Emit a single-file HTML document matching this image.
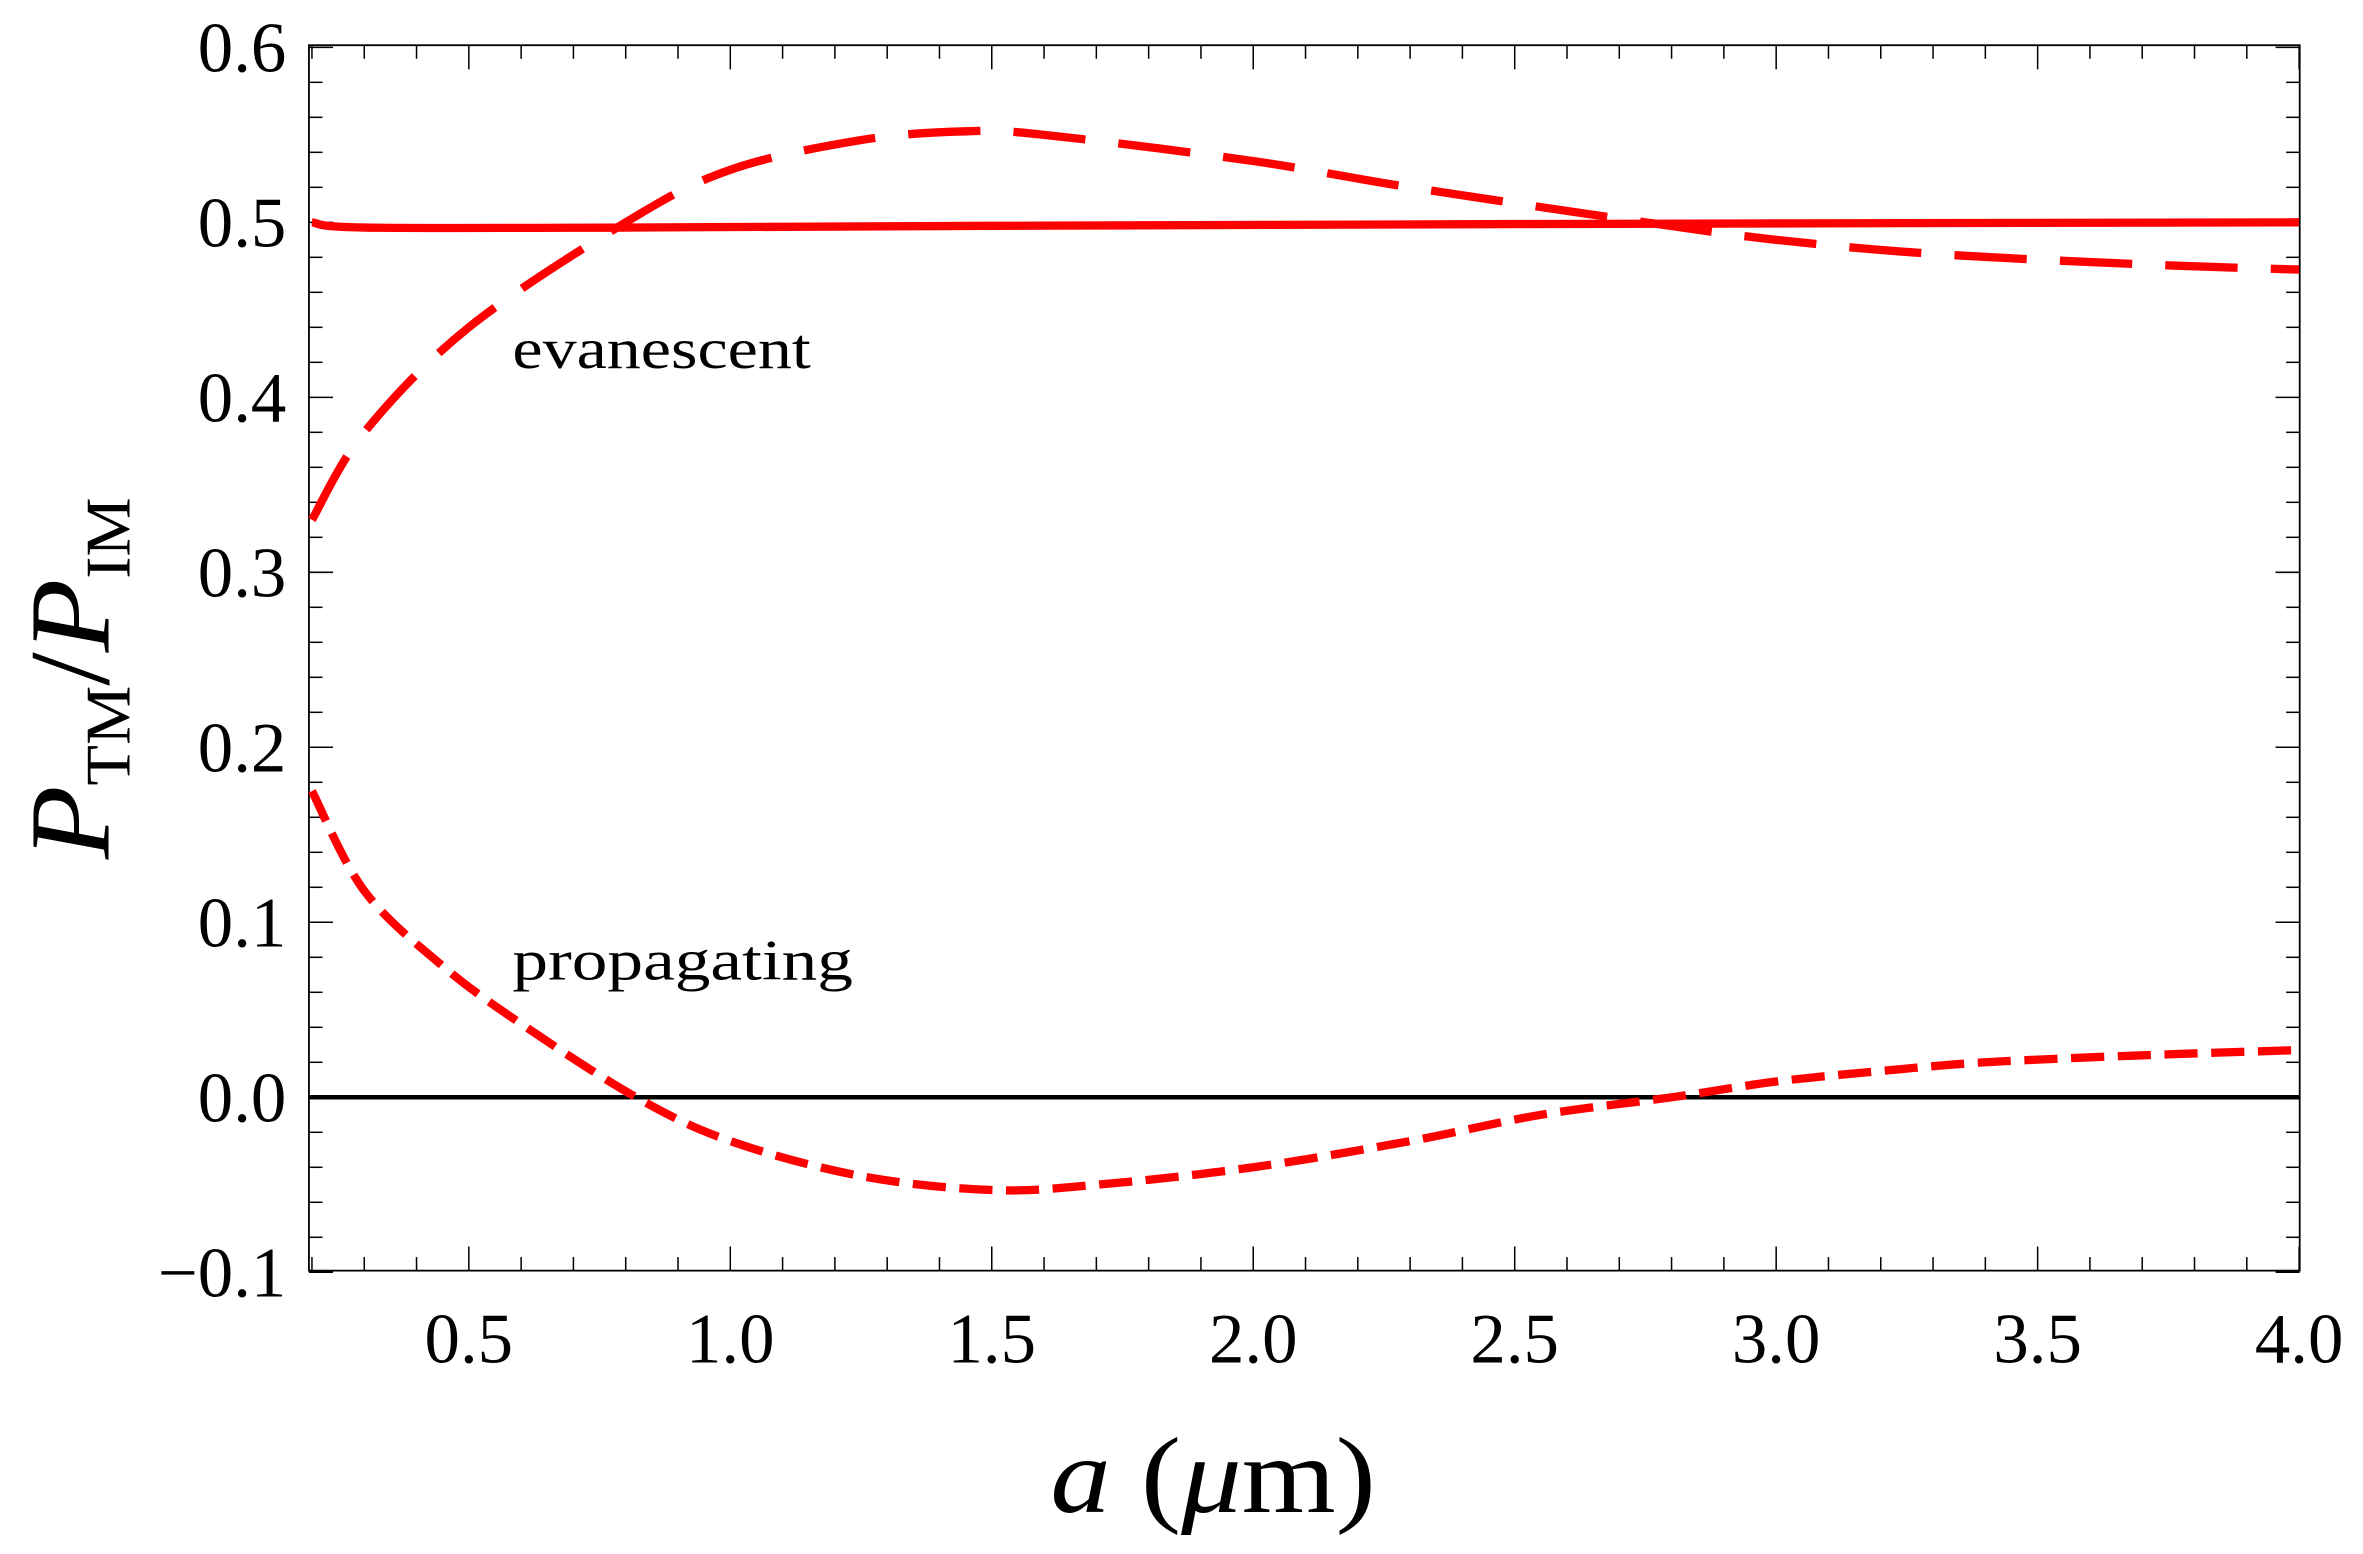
<!DOCTYPE html>
<html><head><meta charset="utf-8"><style>html,body{margin:0;padding:0;background:#fff}svg{display:block}</style></head>
<body>
<svg id="s" width="2363" height="1554" viewBox="0 0 1568 1031" preserveAspectRatio="none" xmlns="http://www.w3.org/2000/svg" font-family="Liberation Serif, serif">
<rect width="1568" height="1031" fill="#fff"/>
<g id="ticks" stroke="#000" stroke-width="1"></g>
<rect x="205" y="30" width="1321" height="813" fill="none" stroke="#000" stroke-width="1.2"/>
<line x1="205" y1="728" x2="1526" y2="728" stroke="#000" stroke-width="3"/>
<g id="curves" fill="none" stroke="#ff0000" stroke-width="5.5"></g>
<g id="labels" font-size="47" fill="#000"></g>
<text x="340" y="244" font-size="38" textLength="198" lengthAdjust="spacingAndGlyphs">evanescent</text>
<text x="340" y="650" font-size="38" textLength="226" lengthAdjust="spacingAndGlyphs">propagating</text>
<text x="697" y="1003" font-size="72" textLength="216" lengthAdjust="spacingAndGlyphs"><tspan font-style="italic">a</tspan> (<tspan font-style="italic">μ</tspan>m)</text>
<g transform="translate(72,450) rotate(-90)">
<text x="-120" y="0" font-size="76" textLength="240" lengthAdjust="spacingAndGlyphs"><tspan font-style="italic">P</tspan><tspan font-size="42" dy="14">TM</tspan><tspan dy="-14">/</tspan><tspan font-style="italic">P</tspan><tspan font-size="42" dy="14">IM</tspan></text>
</g>
</svg>
<script>
const NS="http://www.w3.org/2000/svg";
const X=a=>207+(a-0.2)*347, Y=v=>728-v*1161;
const t=document.getElementById('ticks'), L=document.getElementById('labels'), C=document.getElementById('curves');
function ln(x1,y1,x2,y2){const l=document.createElementNS(NS,'line');l.setAttribute('x1',x1);l.setAttribute('y1',y1);l.setAttribute('x2',x2);l.setAttribute('y2',y2);t.appendChild(l);}
function tx(x,y,s,anc){const e=document.createElementNS(NS,'text');e.setAttribute('x',x);e.setAttribute('y',y);e.setAttribute('text-anchor',anc);e.textContent=s;L.appendChild(e);}
for(let i=2;i<=40;i++){const a=i/10,x=X(a),maj=i%5==0,len=maj?16:9;ln(x,843,x,843-len);ln(x,30,x,30+len);if(maj)tx(x,904,a.toFixed(1),'middle');}
for(let i=-5;i<=30;i++){const v=i/50,y=Y(v),maj=i%5==0,len=maj?16:9;ln(205,y,205+len,y);ln(1526,y,1526-len,y);if(maj)tx(190,y+16,(v<0?'\u2212':'')+Math.abs(v).toFixed(1),'end');}
function path(pts,dash){const p=document.createElementNS(NS,'path');
let d='M'+X(pts[0][0])+','+Y(pts[0][1]);
for(let i=0;i<pts.length-1;i++){const p0=pts[Math.max(0,i-1)],p1=pts[i],p2=pts[i+1],p3=pts[Math.min(pts.length-1,i+2)];
const c1=[X(p1[0])+(X(p2[0])-X(p0[0]))/6,Y(p1[1])+(Y(p2[1])-Y(p0[1]))/6],c2=[X(p2[0])-(X(p3[0])-X(p1[0]))/6,Y(p2[1])-(Y(p3[1])-Y(p1[1]))/6];
d+=`C${c1},${c2},${X(p2[0])},${Y(p2[1])}`;}
p.setAttribute('d',d);if(dash)p.setAttribute('stroke-dasharray',dash);C.appendChild(p);}
path([[0.2,0.5],[0.3,0.497],[0.8,0.497],[1.5,0.498],[2.5,0.499],[4.0,0.5]]);
path([[0.2,0.33],[0.3,0.38],[0.5,0.44],[0.8,0.5],[1.0,0.53],[1.25,0.547],[1.45,0.552],[1.6,0.55],[2.0,0.535],[2.3,0.52],[2.75,0.5],[3.0,0.49],[3.3,0.482],[3.7,0.476],[4.0,0.473]],'48 22');
path([[0.2,0.175],[0.3,0.118],[0.45,0.075],[0.6,0.042],[0.82,0],[1.0,-0.025],[1.25,-0.045],[1.5,-0.053],[1.7,-0.05],[2.0,-0.04],[2.3,-0.025],[2.55,-0.01],[2.8,0],[3.0,0.009],[3.2,0.015],[3.4,0.02],[3.7,0.024],[4.0,0.027]],'22 9');
</script>
</body></html>
